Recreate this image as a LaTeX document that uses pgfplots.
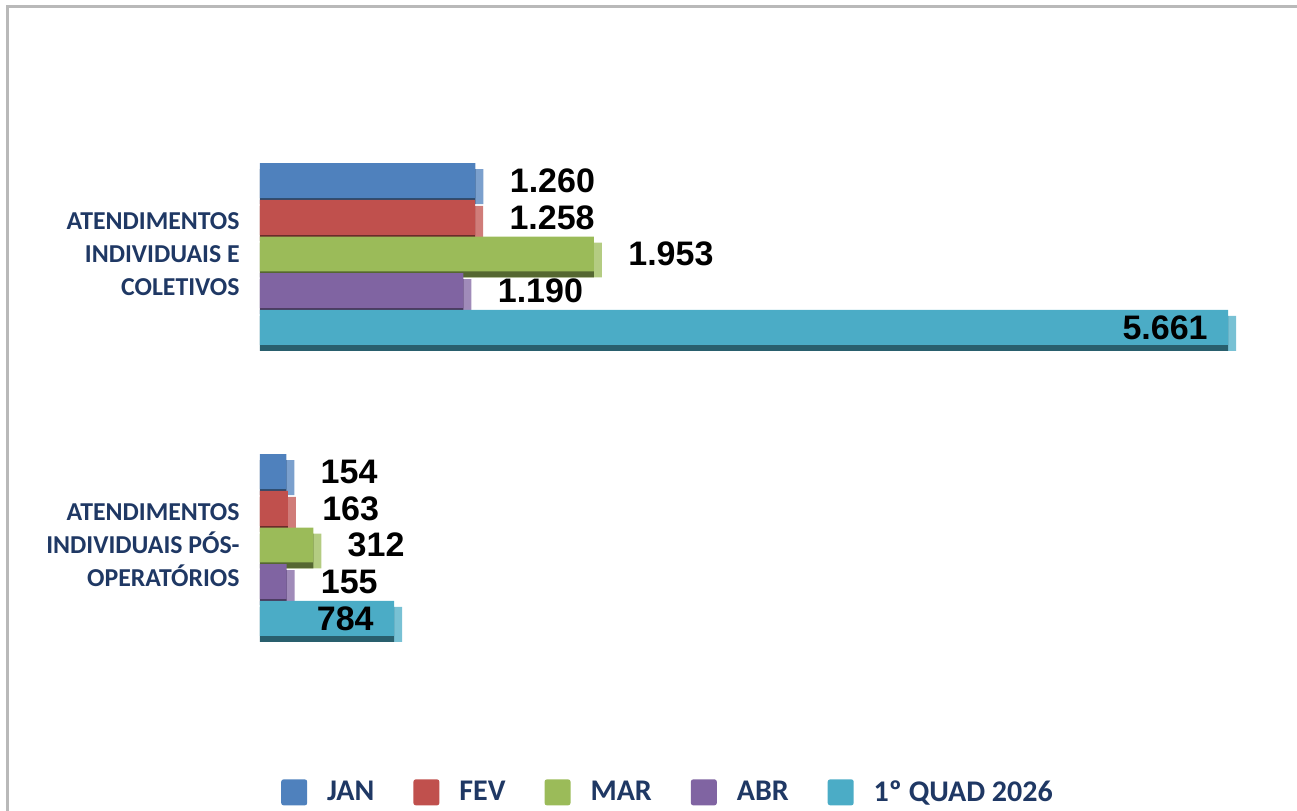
\documentclass[border=0pt]{standalone}
\usepackage{fontspec}
\usepackage{pgfplots}
\usepackage{pgfplotstable}
\pgfplotsset{compat=1.18}
\newfontfamily\carlito{Carlito}
\newfontfamily\numfont{Liberation Sans}
\definecolor{cjan}{HTML}{4F81BD}
\definecolor{cfev}{HTML}{C0504D}
\definecolor{cmar}{HTML}{9BBB59}
\definecolor{cabr}{HTML}{8064A2}
\definecolor{cquad}{HTML}{4BACC6}
\definecolor{navy}{HTML}{1F3864}

% categoria 1 = coletivos (em cima), 0 = pos-operatorios
\pgfplotstableread{
cat jan fev mar abr quad
1 1260 1258 1953 1190 5661
0 154 163 312 155 784
}\dados

\pgfplotsset{
  front/.style={fill=#1, draw=none},
  side/.style={fill=#1!75!white, draw=none, xshift=4pt, yshift=-3pt, forget plot},
  bottom/.style={fill=#1!55!black, draw=none, yshift=-3pt, forget plot},
  lbl/.style={nodes near coords={\pgfmathprintnumber[fixed,precision=0,1000 sep={.},assume math mode=true]{\pgfplotspointmeta}},
    every node near coord/.append style={anchor=west, xshift=17pt, inner sep=0pt,
      font=\numfont\bfseries\fontsize{17}{20}\selectfont, text=black}},
  lblin/.style={nodes near coords={\pgfmathprintnumber[fixed,precision=0,1000 sep={.},assume math mode=true]{\pgfplotspointmeta}},
    every node near coord/.append style={anchor=east, xshift=-10pt, inner sep=0pt,
      font=\numfont\bfseries\fontsize{17}{20}\selectfont, text=black}},
}

\begin{document}
\begin{tikzpicture}
\path[use as bounding box] (-130pt,-59.75pt) rectangle (518.5pt,345.25pt);
\draw[gray!55, line width=1.5pt] (-126pt,-70pt) -- (-126pt,341.75pt) -- (530pt,341.75pt);
\begin{axis}[
  at={(0pt,0pt)}, anchor=south west,
  scale only axis, width=513pt, height=291pt,
  xbar, bar width=0.12,
  xmin=0, xmax=6000, ymin=-0.5, ymax=1.5,
  axis line style={draw=none}, major tick length=0pt,
  xtick=\empty, ytick={0,1},
  yticklabels={{ATENDIMENTOS\\INDIVIDUAIS PÓS-\\OPERATÓRIOS},{ATENDIMENTOS\\INDIVIDUAIS E\\COLETIVOS}},
  yticklabel style={font=\carlito\bfseries\fontsize{12.9}{16.5}\selectfont, text=navy,
    align=right, inner sep=0pt, xshift=-10pt},
  clip=false,
  legend columns=5,
  legend style={at={(0.3967,-0.175)}, anchor=center, draw=none, fill=none,
    font=\carlito\bfseries\fontsize{15}{18}\selectfont, text=navy,
    nodes={inner sep=0pt},
    /tikz/every even column/.append style={column sep=19.5pt},
    /tikz/every odd column/.append style={column sep=10pt}},
  legend image code/.code={\fill[#1,draw=none,rounded corners=1.2pt] (0pt,-6.5pt) rectangle (13pt,6.5pt);},
]
% faces laterais
\addplot[side=cjan, bar shift=0.252] table[x=jan,y=cat] {\dados};
\addplot[side=cfev, bar shift=0.126] table[x=fev,y=cat] {\dados};
\addplot[side=cmar, bar shift=0] table[x=mar,y=cat] {\dados};
\addplot[side=cabr, bar shift=-0.126] table[x=abr,y=cat] {\dados};
\addplot[side=cquad, bar shift=-0.252] table[x=quad,y=cat] {\dados};
% faces de baixo
\addplot[bottom=cjan, bar shift=0.252] table[x=jan,y=cat] {\dados};
\addplot[bottom=cfev, bar shift=0.126] table[x=fev,y=cat] {\dados};
\addplot[bottom=cmar, bar shift=0] table[x=mar,y=cat] {\dados};
\addplot[bottom=cabr, bar shift=-0.126] table[x=abr,y=cat] {\dados};
\addplot[bottom=cquad, bar shift=-0.252] table[x=quad,y=cat] {\dados};
% frentes
\addplot[front=cjan, bar shift=0.252, lbl] table[x=jan,y=cat] {\dados};
\addplot[front=cfev, bar shift=0.126, lbl] table[x=fev,y=cat] {\dados};
\addplot[front=cmar, bar shift=0, lbl] table[x=mar,y=cat] {\dados};
\addplot[front=cabr, bar shift=-0.126, lbl] table[x=abr,y=cat] {\dados};
\addplot[front=cquad, bar shift=-0.252, lblin] table[x=quad,y=cat] {\dados};
\legend{JAN,FEV,MAR,ABR,1º QUAD 2026}
\end{axis}
\end{tikzpicture}
\end{document}
